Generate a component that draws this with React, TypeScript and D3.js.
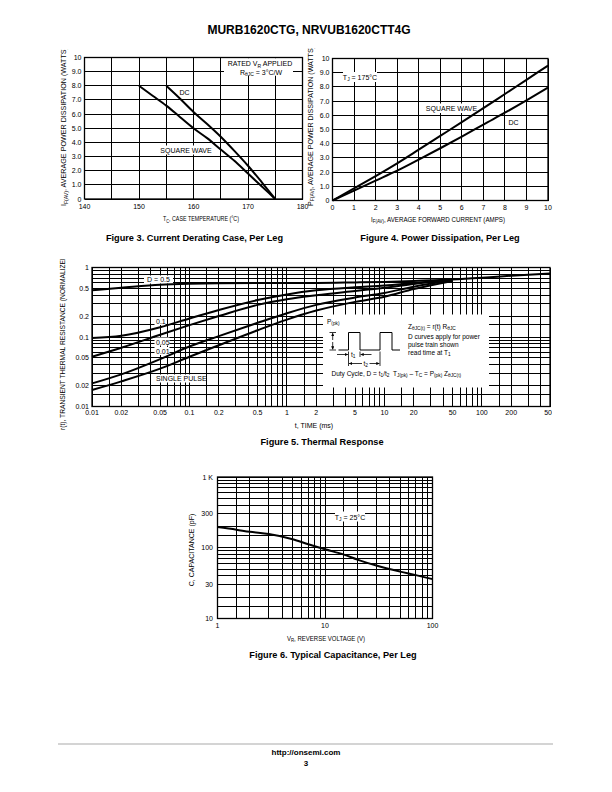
import React from 'react';
import * as d3 from 'd3';

const NARROW = "'Liberation Sans Narrow','Arial Narrow','Liberation Sans',Arial,sans-serif";
const SANS = "'Liberation Sans',Arial,Helvetica,sans-serif";

// ---------------- Figure 3 : current derating ----------------
const fig3XTicks = [140, 150, 160, 170, 180];
const fig3XGrid = [140, 145, 150, 155, 160, 165, 170, 175, 180];
const fig3YTicks = [0, 1, 2, 3, 4, 5, 6, 7, 8, 9, 10];
const fig3YLabels = ['0', '1.0', '2.0', '3.0', '4.0', '5.0', '6.0', '7.0', '8.0', '9.0', '10'];
const fig3DcTemp = [155, 157.5, 160, 162.5, 165, 167.5, 170, 172.5, 175];
const fig3DcCurrent = [8.0, 7.1, 6.15, 5.3, 4.4, 3.4, 2.35, 1.2, 0];
const fig3SqTemp = [150, 152.5, 155, 157.5, 160, 162.5, 165, 167.5, 170, 172.5, 175];
const fig3SqCurrent = [8.0, 7.3, 6.6, 5.8, 5.0, 4.3, 3.5, 2.7, 1.8, 0.9, 0];

// ---------------- Figure 4 : power dissipation ----------------
const fig4XTicks = [0, 1, 2, 3, 4, 5, 6, 7, 8, 9, 10];
const fig4YTicks = [0, 1, 2, 3, 4, 5, 6, 7, 8, 9, 10];
const fig4YLabels = ['0', '1.0', '2.0', '3.0', '4.0', '5.0', '6.0', '7.0', '8.0', '9.0', '10'];
const fig4Current = [0, 1, 2, 3, 4, 5, 6, 7, 8, 9, 10];
const fig4SqPower = [0, 0.85, 1.72, 2.62, 3.58, 4.55, 5.52, 6.5, 7.5, 8.5, 9.5];
const fig4DcPower = [0, 0.7, 1.4, 2.1, 2.88, 3.68, 4.5, 5.35, 6.18, 7.05, 7.95];

// ---------------- Figure 5 : thermal response ----------------
const fig5XTicks = [0.01, 0.02, 0.05, 0.1, 0.2, 0.5, 1, 2, 5, 10, 20, 50, 100, 200, 500];
const fig5XLabels = ['0.01', '0.02', '0.05', '0.1', '0.2', '0.5', '1', '2', '5', '10', '20', '50', '100', '200', '500'];
const fig5YTicks = [1, 0.5, 0.2, 0.1, 0.05, 0.02, 0.01];
const fig5YLabels = ['1', '0.5', '0.2', '0.1', '0.05', '0.02', '0.01'];
const fig5TimeD05 = [0.01, 0.02, 0.05, 0.1, 0.2, 0.5, 1, 2, 5, 10, 20, 50, 100, 200, 500];
const fig5RD05 = [0.47, 0.51, 0.565, 0.585, 0.595, 0.6, 0.6, 0.6, 0.61, 0.62, 0.64, 0.67, 0.71, 0.76, 0.82];
const fig5Time = [0.01, 0.02, 0.05, 0.1, 0.2, 0.5, 1, 2, 5, 10, 20, 50];
const fig5RD01 = [0.097, 0.104, 0.138, 0.185, 0.245, 0.34, 0.41, 0.47, 0.52, 0.55, 0.6, 0.67];
const fig5RD005 = [0.052, 0.07, 0.108, 0.148, 0.2, 0.29, 0.35, 0.4, 0.46, 0.51, 0.58, 0.67];
const fig5RD001 = [0.0215, 0.029, 0.048, 0.073, 0.103, 0.16, 0.22, 0.29, 0.37, 0.43, 0.53, 0.66];
const fig5RSingle = [0.0173, 0.023, 0.035, 0.052, 0.076, 0.125, 0.178, 0.24, 0.32, 0.38, 0.49, 0.64];

// ---------------- Figure 6 : capacitance ----------------
const fig6XTicks = [1, 10, 100];
const fig6XLabels = ['1', '10', '100'];
const fig6YTicks = [10, 30, 100, 300, 1000];
const fig6YLabels = ['10', '30', '100', '300', '1 K'];
const fig6Voltage = [1, 1.5, 2, 3, 5, 7, 10, 15, 20, 30, 50, 70, 100];
const fig6Cap = [196, 180, 168, 156, 132, 112, 95, 80, 68, 56, 46, 41, 36];

const LOG_STEPS = [1, 1.5, 2, 3, 4, 5, 6, 7, 8, 9];

function logGrid(min: number, max: number): number[] {
  const out: number[] = [];
  for (let e = Math.floor(Math.log10(min)); e <= Math.ceil(Math.log10(max)); e++) {
    for (const m of LOG_STEPS) {
      const v = m * Math.pow(10, e);
      if (v >= min * 0.999 && v <= max * 1.001) out.push(v);
    }
  }
  return out;
}

function Grid({ xs, ys, x0, x1, y0, y1 }: { xs: number[]; ys: number[]; x0: number; x1: number; y0: number; y1: number }) {
  return (
    <g stroke="#000" strokeWidth={1} shapeRendering="crispEdges">
      {xs.map((x, i) => <line key={'v' + i} x1={x} x2={x} y1={y0} y2={y1} />)}
      {ys.map((y, i) => <line key={'h' + i} x1={x0} x2={x1} y1={y} y2={y} />)}
    </g>
  );
}

function Frame({ x0, x1, y0, y1 }: { x0: number; x1: number; y0: number; y1: number }) {
  return <rect x={x0} y={y0} width={x1 - x0} height={y1 - y0} fill="none" stroke="#000" strokeWidth={1.3} />;
}

function curvePath(xs: number[], ys: number[], sx: (v: number) => number, sy: (v: number) => number) {
  const pts: [number, number][] = xs.map((v, i) => [sx(v), sy(ys[i])]);
  return d3.line().curve(d3.curveMonotoneX)(pts) || '';
}

export default function App() {
  const x3 = d3.scaleLinear().domain([140, 180]).range([84.5, 302.5]);
  const y3 = d3.scaleLinear().domain([0, 10]).range([199, 57.5]);
  const x4 = d3.scaleLinear().domain([0, 10]).range([332.5, 548]);
  const y4 = d3.scaleLinear().domain([0, 10]).range([200.5, 58.5]);
  const x5 = d3.scaleLog().domain([0.01, 500]).range([92, 550]);
  const y5 = d3.scaleLog().domain([0.01, 1]).range([406.5, 267.5]);
  const x6 = d3.scaleLog().domain([1, 100]).range([217.5, 432.5]);
  const y6 = d3.scaleLog().domain([10, 1000]).range([618.5, 477]);

  const curve = { fill: 'none', stroke: '#000', strokeWidth: 2, strokeLinejoin: 'round' as const };
  const tick = { fontSize: 7, fill: '#000' };

  return (
    <svg width={612} height={792} style={{ position: 'absolute', left: 0, top: 0 }} fontFamily={NARROW}>
      <defs>
        <clipPath id="clipTop3"><rect x={0} y={49.5} width={320} height={200} /></clipPath>
        <clipPath id="clipTop4"><rect x={300} y={48} width={300} height={200} /></clipPath>
        <clipPath id="clipTop5"><rect x={0} y={259} width={100} height={200} /></clipPath>
        <clipPath id="clipRight5"><rect x={0} y={400} width={552} height={30} /></clipPath>
        <marker id="arr" viewBox="0 0 6 6" refX={6} refY={3} markerWidth={4} markerHeight={4} orient="auto-start-reverse">
          <path d="M0,0 L6,3 L0,6 Z" fill="#000" />
        </marker>
      </defs>
      <rect x={0} y={0} width={612} height={792} fill="#fff" />

      <text x={309} y={34} textAnchor="middle" fontFamily={SANS} fontWeight="bold" fontSize={12}>MURB1620CTG, NRVUB1620CTT4G</text>

      {/* ================= Figure 3 ================= */}
      <Grid xs={fig3XGrid.map(x3)} ys={fig3YTicks.map(y3)} x0={x3(140)} x1={x3(180)} y0={y3(10)} y1={y3(0)} />
      <rect x={224} y={58.2} width={69} height={17.5} fill="#fff" />
      <text x={260} y={66} textAnchor="middle" {...tick}>RATED V<tspan fontSize={5} dy={1.5}>R</tspan><tspan dy={-1.5}> APPLIED</tspan></text>
      <text x={261} y={74.5} textAnchor="middle" {...tick}>R<tspan fontSize={5} dy={1.5}>θJC</tspan><tspan dy={-1.5}> = 3°C/W</tspan></text>
      <rect x={161} y={145.5} width={50} height={9} fill="#fff" />
      <rect x={178} y={88} width={13} height={8.5} fill="#fff" />
      <path d={curvePath(fig3DcTemp, fig3DcCurrent, x3, y3)} {...curve} />
      <path d={curvePath(fig3SqTemp, fig3SqCurrent, x3, y3)} {...curve} />
      <text x={184.5} y={94.5} textAnchor="middle" {...tick}>DC</text>
      <text x={186} y={152.5} textAnchor="middle" {...tick}>SQUARE WAVE</text>
      <Frame x0={x3(140)} x1={x3(180)} y0={y3(10)} y1={y3(0)} />
      {fig3XTicks.map((v) => <text key={'x3' + v} x={x3(v)} y={208.5} textAnchor="middle" {...tick}>{v}</text>)}
      {fig3YTicks.map((v, i) => <text key={'y3' + v} x={81.5} y={y3(v) + 2.5} textAnchor="end" {...tick}>{fig3YLabels[i]}</text>)}
      <text x={201} y={221} textAnchor="middle" {...tick} textLength={76} lengthAdjust="spacingAndGlyphs">T<tspan fontSize={5} dy={1.5}>C</tspan><tspan dy={-1.5}>, CASE TEMPERATURE (°C)</tspan></text>
      <g clipPath="url(#clipTop3)">
        <text transform="translate(66,206) rotate(-90)" {...tick} textLength={159} lengthAdjust="spacingAndGlyphs">I<tspan fontSize={5} dy={1.5}>F(AV)</tspan><tspan dy={-1.5}>, AVERAGE POWER DISSIPATION (WATTS)</tspan></text>
      </g>
      <text x={194.5} y={240.5} textAnchor="middle" fontFamily={SANS} fontWeight="bold" fontSize={9.2}>Figure 3. Current Derating Case, Per Leg</text>

      {/* ================= Figure 4 ================= */}
      <Grid xs={fig4XTicks.map(x4)} ys={fig4YTicks.map(y4)} x0={x4(0)} x1={x4(10)} y0={y4(10)} y1={y4(0)} />
      <rect x={343} y={72} width={34} height={10} fill="#fff" />
      <rect x={427} y={103.5} width={50} height={9.5} fill="#fff" />
      <path d={curvePath(fig4Current, fig4SqPower, x4, y4)} {...curve} />
      <path d={curvePath(fig4Current, fig4DcPower, x4, y4)} {...curve} />
      <text x={360} y={79.5} textAnchor="middle" {...tick}>T<tspan fontSize={5} dy={1.5}>J</tspan><tspan dy={-1.5}> = 175°C</tspan></text>
      <text x={451.5} y={110.5} textAnchor="middle" {...tick}>SQUARE WAVE</text>
      <text x={513.5} y={124.5} textAnchor="middle" {...tick}>DC</text>
      <Frame x0={x4(0)} x1={x4(10)} y0={y4(10)} y1={y4(0)} />
      {fig4XTicks.map((v) => <text key={'x4' + v} x={x4(v)} y={210} textAnchor="middle" {...tick}>{v}</text>)}
      {fig4YTicks.map((v, i) => <text key={'y4' + v} x={329.5} y={y4(v) + 2.5} textAnchor="end" {...tick}>{fig4YLabels[i]}</text>)}
      <text x={438} y={221.5} textAnchor="middle" {...tick} textLength={134} lengthAdjust="spacingAndGlyphs">I<tspan fontSize={5} dy={1.5}>F(AV)</tspan><tspan dy={-1.5}>, AVERAGE FORWARD CURRENT (AMPS)</tspan></text>
      <g clipPath="url(#clipTop4)">
        <text transform="translate(312.5,206) rotate(-90)" {...tick} textLength={160} lengthAdjust="spacingAndGlyphs">P<tspan fontSize={5} dy={1.5}>F(AV)</tspan><tspan dy={-1.5}>, AVERAGE POWER DISSIPATION (WATTS)</tspan></text>
      </g>
      <text x={440} y={240.5} textAnchor="middle" fontFamily={SANS} fontWeight="bold" fontSize={9.2}>Figure 4. Power Dissipation, Per Leg</text>

      {/* ================= Figure 5 ================= */}
      <Grid xs={logGrid(0.01, 500).map(x5)} ys={logGrid(0.01, 1).map(y5)} x0={x5(0.01)} x1={x5(500)} y0={y5(1)} y1={y5(0.01)} />
      <rect x={144} y={275.5} width={29} height={8} fill="#fff" />
      <rect x={154.5} y={317} width={11} height={8} fill="#fff" />
      <rect x={154.5} y={337.5} width={15} height={8} fill="#fff" />
      <rect x={154.5} y={347} width={15} height={8} fill="#fff" />
      <rect x={154.5} y={374.5} width={49} height={8} fill="#fff" />
      <path d={curvePath(fig5TimeD05, fig5RD05, x5, y5)} {...curve} />
      <path d={curvePath(fig5Time, fig5RD01, x5, y5)} {...curve} />
      <path d={curvePath(fig5Time, fig5RD005, x5, y5)} {...curve} />
      <path d={curvePath(fig5Time, fig5RD001, x5, y5)} {...curve} />
      <path d={curvePath(fig5Time, fig5RSingle, x5, y5)} {...curve} />
      <text x={158.5} y={282} textAnchor="middle" {...tick}>D = 0.5</text>
      <text x={156} y={323.5} {...tick}>0.1</text>
      <text x={156} y={344.5} {...tick}>0.05</text>
      <text x={156} y={354} {...tick}>0.01</text>
      <text x={156} y={381} {...tick}>SINGLE PULSE</text>

      {/* inset */}
      <rect x={323} y={314.5} width={166} height={73} fill="#fff" />
      <g fontSize={6.5}>
        <text x={327} y={323.5}>P<tspan fontSize={4.8} dy={1.3}>(pk)</tspan></text>
        <line x1={329.5} x2={336} y1={332.5} y2={332.5} stroke="#000" strokeWidth={0.8} />
        <line x1={329.5} x2={336} y1={350} y2={350} stroke="#000" strokeWidth={0.8} />
        <line x1={332.7} x2={332.7} y1={340} y2={333} stroke="#000" strokeWidth={0.8} markerEnd="url(#arr)" />
        <line x1={332.7} x2={332.7} y1={342} y2={349.5} stroke="#000" strokeWidth={0.8} markerEnd="url(#arr)" />
        <polyline points="338.5,350 348.5,350 348.5,332.5 360,332.5 360,350 380,350 380,332.5 392,332.5 392,350 400,350" fill="none" stroke="#000" strokeWidth={1} />
        <line x1={348.5} x2={348.5} y1={351.5} y2={366} stroke="#000" strokeWidth={0.8} />
        <line x1={360} x2={360} y1={351.5} y2={357} stroke="#000" strokeWidth={0.8} />
        <line x1={380} x2={380} y1={351.5} y2={366} stroke="#000" strokeWidth={0.8} />
        <line x1={337} x2={348} y1={354.5} y2={354.5} stroke="#000" strokeWidth={0.8} markerEnd="url(#arr)" />
        <line x1={371.5} x2={360.5} y1={354.5} y2={354.5} stroke="#000" strokeWidth={0.8} markerEnd="url(#arr)" />
        <text x={351} y={357}>t<tspan fontSize={4.8} dy={1.3}>1</tspan></text>
        <line x1={362} x2={349} y1={363.5} y2={363.5} stroke="#000" strokeWidth={0.8} markerEnd="url(#arr)" />
        <line x1={369.5} x2={379.5} y1={363.5} y2={363.5} stroke="#000" strokeWidth={0.8} markerEnd="url(#arr)" />
        <text x={363.5} y={366}>t<tspan fontSize={4.8} dy={1.3}>2</tspan></text>
        <text x={331.5} y={376}>Duty Cycle, D = t<tspan fontSize={4.8} dy={1.3}>1</tspan><tspan dy={-1.3}>/t</tspan><tspan fontSize={4.8} dy={1.3}>2</tspan></text>
        <text x={393} y={376}>T<tspan fontSize={4.8} dy={1.3}>J(pk)</tspan><tspan dy={-1.3}> – T</tspan><tspan fontSize={4.8} dy={1.3}>C</tspan><tspan dy={-1.3}> = P</tspan><tspan fontSize={4.8} dy={1.3}>(pk)</tspan><tspan dy={-1.3}> Z</tspan><tspan fontSize={4.8} dy={1.3}>θJC(t)</tspan></text>
        <text x={408} y={329}>Z<tspan fontSize={4.8} dy={1.3}>θJC(t)</tspan><tspan dy={-1.3}> = r(t) R</tspan><tspan fontSize={4.8} dy={1.3}>θJC</tspan></text>
        <text x={408} y={339}>D curves apply for power</text>
        <text x={408} y={347}>pulse train shown</text>
        <text x={408} y={355}>read time at T<tspan fontSize={4.8} dy={1.3}>1</tspan></text>
      </g>
      <Frame x0={x5(0.01)} x1={x5(500)} y0={y5(1)} y1={y5(0.01)} />
      <g clipPath="url(#clipRight5)">
        {fig5XTicks.map((v, i) => <text key={'x5' + i} x={x5(v)} y={415} textAnchor="middle" {...tick}>{fig5XLabels[i]}</text>)}
      </g>
      {fig5YTicks.map((v, i) => <text key={'y5' + i} x={89} y={y5(v) + 2.5} textAnchor="end" {...tick}>{fig5YLabels[i]}</text>)}
      <text x={314} y={427.5} textAnchor="middle" {...tick}>t, TIME (ms)</text>
      <g clipPath="url(#clipTop5)">
        <text transform="translate(64.5,430) rotate(-90)" {...tick} textLength={177} lengthAdjust="spacingAndGlyphs">r(t), TRANSIENT THERMAL RESISTANCE (NORMALIZED)</text>
      </g>
      <text x={322} y={445} textAnchor="middle" fontFamily={SANS} fontWeight="bold" fontSize={9.2}>Figure 5. Thermal Response</text>

      {/* ================= Figure 6 ================= */}
      <Grid xs={logGrid(1, 100).map(x6)} ys={logGrid(10, 1000).map(y6)} x0={x6(1)} x1={x6(100)} y0={y6(1000)} y1={y6(10)} />
      <rect x={335} y={511.5} width={30} height={10} fill="#fff" />
      <path d={curvePath(fig6Voltage, fig6Cap, x6, y6)} {...curve} />
      <text x={350} y={519.5} textAnchor="middle" {...tick}>T<tspan fontSize={5} dy={1.5}>J</tspan><tspan dy={-1.5}> = 25°C</tspan></text>
      <Frame x0={x6(1)} x1={x6(100)} y0={y6(1000)} y1={y6(10)} />
      {fig6XTicks.map((v, i) => <text key={'x6' + i} x={x6(v)} y={628} textAnchor="middle" {...tick}>{fig6XLabels[i]}</text>)}
      {fig6YTicks.map((v, i) => <text key={'y6' + i} x={213} y={y6(v) + 2.5} textAnchor="end" {...tick}>{fig6YLabels[i]}</text>)}
      <text x={326} y={640.5} textAnchor="middle" {...tick} textLength={78} lengthAdjust="spacingAndGlyphs">V<tspan fontSize={5} dy={1.5}>R</tspan><tspan dy={-1.5}>, REVERSE VOLTAGE (V)</tspan></text>
      <text transform="translate(194,550) rotate(-90)" textAnchor="middle" {...tick}>C, CAPACITANCE (pF)</text>
      <text x={333} y={658} textAnchor="middle" fontFamily={SANS} fontWeight="bold" fontSize={9.2}>Figure 6. Typical Capacitance, Per Leg</text>

      {/* footer */}
      <line x1={58} x2={553} y1={744} y2={744} stroke="#aaa" strokeWidth={1.2} />
      <text x={306} y={755} textAnchor="middle" fontFamily={SANS} fontWeight="bold" fontSize={8}>http://onsemi.com</text>
      <text x={306} y={765.5} textAnchor="middle" fontFamily={SANS} fontWeight="bold" fontSize={8}>3</text>
    </svg>
  );
}
